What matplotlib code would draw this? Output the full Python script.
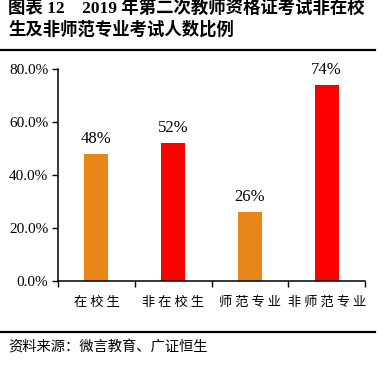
import matplotlib
matplotlib.use("Agg")
import matplotlib.pyplot as plt
from matplotlib.lines import Line2D
from matplotlib.ticker import FuncFormatter, FixedLocator

categories = ["在校生", "非在校生", "师范专业", "非师范专业"]
values = [48, 52, 26, 74]
colors = ["#E8861A", "#FF0000", "#E8861A", "#FF0000"]
title_lines = ["图表 12    2019 年第二次教师资格证考试非在校", "生及非师范专业考试人数比例"]
source = "资料来源：微言教育、广证恒生"

W, H = 384, 371
fig = plt.figure(figsize=(W / 100, H / 100), dpi=100)
ax = fig.add_axes([58 / W, 1 - 281 / H, (365 - 58) / W, (281 - 69) / H])

x = list(range(len(categories)))
ax.bar(x, values, width=0.31, color=colors)
ax.set_xlim(-0.5, len(categories) - 0.5)
ax.set_ylim(0, 80)
ax.yaxis.set_major_locator(FixedLocator([0, 20, 40, 60, 80]))
ax.yaxis.set_major_formatter(FuncFormatter(lambda v, p: f"{v:.1f}%"))
for lab in ax.get_yticklabels():
    lab.set_family("Liberation Serif")
    lab.set_fontsize(11)
ax.tick_params(axis="y", direction="out", length=4, width=1, pad=3)

ax.set_xticks([i - 0.5 for i in range(len(categories) + 1)])
ax.set_xticklabels([])
ax.set_xticks(x, minor=True)
ax.set_xticklabels([" ".join(c) for c in categories], minor=True,
                   family=["Noto Sans CJK SC"], fontsize=9.5)
ax.tick_params(axis="x", which="major", direction="out", length=4, width=1)
ax.tick_params(axis="x", which="minor", length=0, pad=11)

for s in ["top", "right"]:
    ax.spines[s].set_visible(False)
for s in ["left", "bottom"]:
    ax.spines[s].set_linewidth(1.1)

for xi, v in zip(x, values):
    ax.annotate(f"{v}%", (xi, v), xytext=(0, 5), textcoords="offset points",
                ha="center", va="bottom", family="Liberation Serif", fontsize=12)

tfam = ["Liberation Serif", "Noto Sans CJK SC"]
fig.text(8 / W, 1 - 8 / H, title_lines[0], ha="left", va="center",
         family=tfam, fontsize=12.5, fontweight="bold")
fig.text(8 / W, 1 - 30 / H, title_lines[1], ha="left", va="center",
         family=tfam, fontsize=12.5, fontweight="bold")
fig.add_artist(Line2D([0, 375 / W], [1 - 50 / H, 1 - 50 / H], color="black", lw=1.6))
fig.add_artist(Line2D([0, 375 / W], [1 - 332 / H, 1 - 332 / H], color="black", lw=1.6))
fig.text(8 / W, 1 - 347 / H, source, ha="left", va="center",
         family=["Noto Sans CJK SC"], fontsize=10.3)

fig.savefig("out.png", dpi=100)
